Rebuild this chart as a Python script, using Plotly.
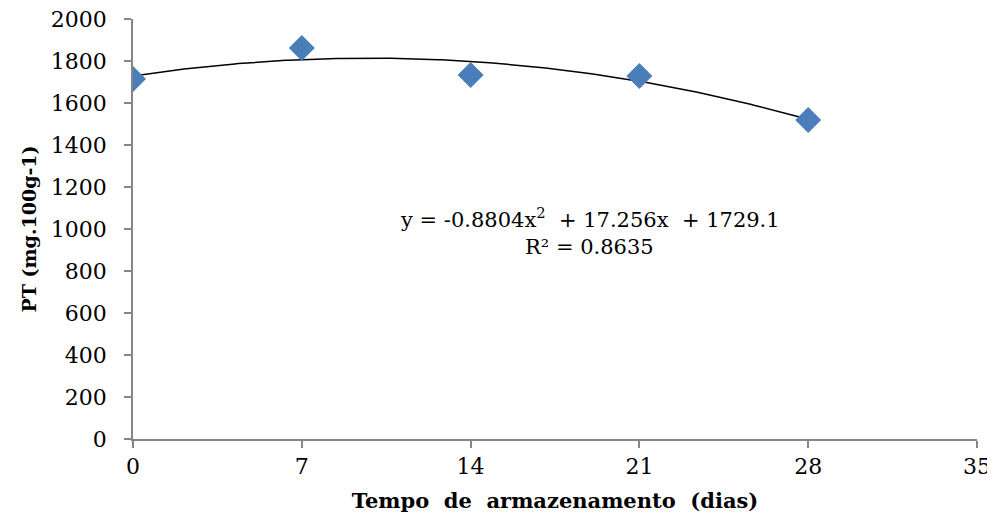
import numpy as np
import plotly.graph_objects as go

# Data
dias = [0, 7, 14, 21, 28]
pt_values = [1714, 1862, 1733, 1729, 1519]
trend_coefs = [-0.8804, 17.256, 1729.1]  # quadratic trendline as printed on the chart
x_ticks = [0, 7, 14, 21, 28, 35]
y_ticks = [0, 200, 400, 600, 800, 1000, 1200, 1400, 1600, 1800, 2000]

x_line = np.linspace(dias[0], dias[-1], 200)
y_line = np.polyval(trend_coefs, x_line)

FONT = "DejaVu Serif"

fig = go.Figure()
fig.add_trace(go.Scatter(
    x=x_line, y=y_line, mode="lines",
    line=dict(color="black", width=1.5), showlegend=False, hoverinfo="skip"))
fig.add_trace(go.Scatter(
    x=dias, y=pt_values, mode="markers",
    marker=dict(symbol="diamond", size=20, color="#4A7EBB"), showlegend=False))

fig.add_annotation(
    x=18.95, y=1052, xref="x", yref="y", showarrow=False,
    text="y = -0.8804x<sup>2</sup>&nbsp; + 17.256x&nbsp; + 1729.1",
    font=dict(family=FONT, size=21, color="black"))
fig.add_annotation(
    x=18.95, y=914, xref="x", yref="y", showarrow=False,
    text="R² = 0.8635",
    font=dict(family=FONT, size=21, color="black"))

axis_common = dict(
    showgrid=False, zeroline=False, showline=True, linecolor="#868686", linewidth=1.5,
    ticks="outside", tickcolor="#868686", ticklen=7, tickwidth=1.5,
    tickfont=dict(family=FONT, size=22, color="black"),
    ticklabeloverflow="allow",
)

fig.update_xaxes(
    range=[0, 35], tickvals=x_ticks, ticktext=[str(v) for v in x_ticks],
    automargin=False,
    title=dict(text="<b>Tempo&nbsp; de&nbsp; armazenamento&nbsp; (dias)</b>",
               font=dict(family=FONT, size=21, color="black")),
    **axis_common)
fig.update_yaxes(
    range=[0, 2000], tickvals=y_ticks, ticktext=[str(v) for v in y_ticks],
    ticklabelstandoff=13, automargin="left",
    title=dict(text="<b>PT (mg.100g-1)</b>",
               font=dict(family=FONT, size=19, color="black"), standoff=9),
    **axis_common)

# page body has an 8px margin, so the size and margins compensate for it
fig.update_layout(
    width=987, height=505,
    margin=dict(l=125, r=18, t=11, b=74),
    plot_bgcolor="white", paper_bgcolor="white",
)

fig.write_html("out.html")
